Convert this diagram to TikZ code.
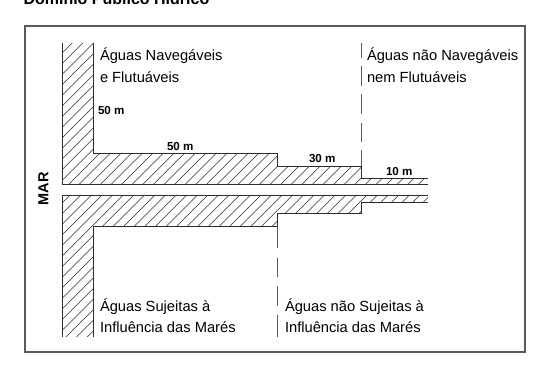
\documentclass[tikz,border=0pt]{standalone}
\usepackage{fontspec}
\setmainfont{Liberation Sans}
\definecolor{drawColor}{RGB}{45,45,45}
\definecolor{frameColor}{RGB}{90,90,90}
\tikzset{
  zoneLabel/.style={text=black,anchor=base west,inner sep=0pt,outer sep=0pt,font=\fontsize{14.7}{16}\selectfont},
  distLabel/.style={text=black,anchor=base west,inner sep=0pt,outer sep=0pt,font=\bfseries\fontsize{11.6}{13}\selectfont},
  hatchLine/.style={draw=drawColor,line width=0.55pt},
  edgeLine/.style={draw=drawColor,line width=0.95pt},
  limitLine/.style={draw=frameColor,line width=1pt}
}
\begin{document}
\begin{tikzpicture}[x=1pt,y=1pt]
\path[use as bounding box,fill=white] (0,0) rectangle (544,374);
\begin{scope}
\path[clip] (0,0) rectangle (544,374);
\node[text=black,anchor=base west,inner sep=0pt,outer sep=0pt,font=\bfseries\fontsize{16}{18}\selectfont] (title) at (23.5,369) {Domínio Público Hídrico};
\end{scope}

\path[draw=frameColor,line width=1.1pt] (25,22) rectangle (525,348);

% upper bank
\begin{scope}
\path[clip] (62,331) -- (93,331) -- (93,221) -- (277,221) -- (277,208) -- (361,208) -- (361,196) -- (428,196) -- (428,190) -- (62,190) -- cycle;
\foreach \i in {0,...,60}
  \path[hatchLine] (-100+\i*10.6,180) -- ++(160,160);
\end{scope}
\path[edgeLine] (62,331) -- (62,190) -- (428,190);
\path[edgeLine] (93,331) -- (93,221) -- (277,221) -- (277,208) -- (361,208) -- (361,196) -- (428,196);

% lower bank
\begin{scope}
\path[clip] (62,179) -- (428,179) -- (428,172) -- (361,172) -- (361,161) -- (277,161) -- (277,147.5) -- (93,147.5) -- (93,37) -- (62,37) -- cycle;
\foreach \i in {0,...,60}
  \path[hatchLine] (-100+\i*10.6,30) -- ++(160,160);
\end{scope}
\path[edgeLine] (62,37) -- (62,179) -- (428,179);
\path[edgeLine] (93,37) -- (93,147.5) -- (277,147.5) -- (277,161) -- (361,161) -- (361,172) -- (428,172);

% limits
\path[limitLine] (361,331) -- (361,316);
\path[limitLine] (361,308) -- (361,288);
\path[limitLine] (361,280) -- (361,260);
\path[limitLine] (361,251) -- (361,232);
\path[limitLine] (361,224) -- (361,208);
\path[limitLine] (277,147.5) -- (277,126);
\path[limitLine] (277,116) -- (277,97);
\path[limitLine] (277,88) -- (277,68);
\path[limitLine] (277,59) -- (277,37);

\node[zoneLabel] (navegaveis) at (100,313) {Águas Navegáveis};
\node[zoneLabel] (flutuaveis) at (100,291) {e Flutuáveis};
\node[zoneLabel] (naoNavegaveis) at (367,313) {Águas não Navegáveis};
\node[zoneLabel] (naoFlutuaveis) at (367,291) {nem Flutuáveis};
\node[zoneLabel] (sujeitas) at (100,62) {Águas Sujeitas à};
\node[zoneLabel] (influencia) at (100,41) {Influência das Marés};
\node[zoneLabel] (naoSujeitas) at (285,62) {Águas não Sujeitas à};
\node[zoneLabel] (naoInfluencia) at (285,41) {Influência das Marés};

\node[distLabel] (distA) at (98,259) {50 m};
\node[distLabel] (distB) at (167,223) {50 m};
\node[distLabel] (distC) at (309,211) {30 m};
\node[distLabel] (distD) at (386,198) {10 m};

\node[text=black,inner sep=0pt,outer sep=0pt,rotate=90,font=\bfseries\fontsize{14.5}{16}\selectfont] (mar) at (43.5,185) {MAR};
\end{tikzpicture}
\end{document}
